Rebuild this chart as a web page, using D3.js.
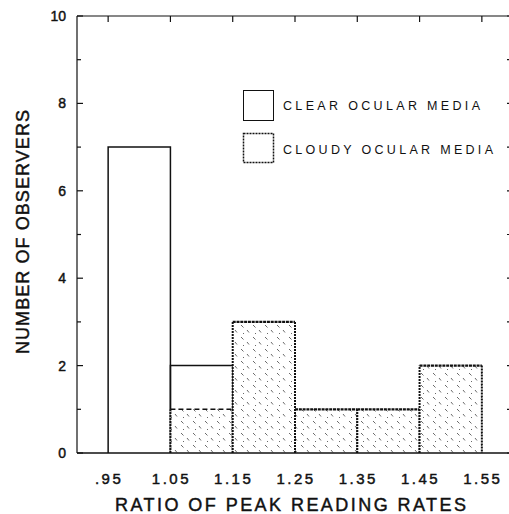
<!DOCTYPE html>
<html>
<head>
<meta charset="utf-8">
<script src="https://cdn.jsdelivr.net/npm/d3@7"></script>
<style>
  html, body { margin: 0; padding: 0; background: #fff; overflow: hidden; }
  svg { display: block; }
  text { font-family: "Liberation Sans", Arial, Helvetica, sans-serif; fill: #111; }
  .heavy { stroke: #111; stroke-width: 0.45; }
</style>
</head>
<body>
<svg id="chart" width="509" height="514"></svg>
<script>
// Histogram bins (lower edge of each 0.1-wide bin)
const binStarts = [0.95, 1.05, 1.15, 1.25, 1.35, 1.45];
const binWidth = 0.1;
// Observer counts per bin
const clearCounts  = [7, 1, 0, 0, 0, 0];
const cloudyCounts = [0, 1, 3, 1, 1, 2];
// Axis ticks
const xTickValues = [0.95, 1.05, 1.15, 1.25, 1.35, 1.45, 1.55];
const xTickLabels = [".95", "1.05", "1.15", "1.25", "1.35", "1.45", "1.55"];
const yTickValues = [0, 1, 2, 3, 4, 5, 6, 7, 8, 9, 10];
const yLabelValues = [0, 2, 4, 6, 8, 10];
const legendLabels = ["CLEAR OCULAR MEDIA", "CLOUDY OCULAR MEDIA"];

const svg = d3.select("#chart");
const x = d3.scaleLinear().domain([0.9, 1.6]).range([77, 513]);
const y = d3.scaleLinear().domain([0, 10]).range([453, 16]);
const ink = "#111";

// Sparse stipple pattern for cloudy-media bars
const defs = svg.append("defs");
const pat = defs.append("pattern")
  .attr("id", "stipple").attr("patternUnits", "userSpaceOnUse")
  .attr("width", 12).attr("height", 12);
pat.append("rect").attr("width", 12).attr("height", 12).attr("fill", "#fff");
[[1, 1, 3.5, 3.5], [7, 6, 9, 8.5], [3, 9, 4, 10]].forEach(s => {
  pat.append("line").attr("x1", s[0]).attr("y1", s[1]).attr("x2", s[2]).attr("y2", s[3])
    .attr("stroke", "#444").attr("stroke-width", 0.8);
});

// Frame (top and left; the right edge lies just past the canvas)
const frame = svg.append("g").attr("fill", "none").attr("stroke", ink).attr("stroke-width", 1.2);
frame.append("line").attr("x1", x(0.9)).attr("x2", x(1.6)).attr("y1", y(10)).attr("y2", y(10));
frame.append("line").attr("x1", x(0.9)).attr("x2", x(0.9)).attr("y1", y(10)).attr("y2", y(0));

// Y ticks on both sides (inward)
const yt = svg.append("g").attr("stroke", ink).attr("stroke-width", 1.2);
yTickValues.forEach(v => {
  const len = v % 2 === 0 ? 6 : 4;
  yt.append("line").attr("x1", x(0.9)).attr("x2", x(0.9) + len).attr("y1", y(v)).attr("y2", y(v));
  yt.append("line").attr("x1", x(1.6)).attr("x2", x(1.6) - 6).attr("y1", y(v)).attr("y2", y(v));
});
// Top ticks at bin edges
xTickValues.forEach(v => {
  yt.append("line").attr("x1", x(v)).attr("x2", x(v)).attr("y1", y(10)).attr("y2", y(10) + 6);
});

// Y tick labels
svg.append("g").selectAll("text").data(yLabelValues).join("text")
  .attr("class", "heavy")
  .attr("x", 66).attr("y", d => y(d)).attr("dy", "0.36em")
  .attr("text-anchor", "end").attr("font-size", 14).text(d => d);

// X tick labels
svg.append("g").selectAll("text").data(xTickValues).join("text")
  .attr("class", "heavy")
  .attr("x", d => x(d) + 1).attr("y", 484)
  .attr("text-anchor", "middle").attr("font-size", 15)
  .attr("letter-spacing", 2.5).text((d, i) => xTickLabels[i]);

// Bars
const bars = svg.append("g");
binStarts.forEach((b, i) => {
  const x0 = x(b), x1 = x(b + binWidth);
  const c = cloudyCounts[i], k = clearCounts[i];
  if (c > 0) {
    bars.append("rect").attr("x", x0).attr("y", y(c))
      .attr("width", x1 - x0).attr("height", y(0) - y(c))
      .attr("fill", "url(#stipple)");
    // sides: dotted
    bars.append("path")
      .attr("d", `M${x0},${y(0)}V${y(c)}M${x1},${y(c)}V${y(0)}`)
      .attr("fill", "none").attr("stroke", ink).attr("stroke-width", 2)
      .attr("stroke-dasharray", "2,1");
    // top: long dashes where it borders a clear segment, dense dots otherwise
    bars.append("line").attr("x1", x0).attr("x2", x1).attr("y1", y(c)).attr("y2", y(c))
      .attr("stroke", ink).attr("stroke-width", k > 0 ? 1.6 : 2.2)
      .attr("stroke-dasharray", k > 0 ? "5,3" : "3,0.8");
  }
  if (k > 0) {
    const base = c, top = c + k;
    bars.append("path")
      .attr("d", `M${x0},${y(base)}V${y(top)}H${x1}V${y(base)}`)
      .attr("fill", "none").attr("stroke", ink).attr("stroke-width", 1.5);
  }
});

// Bottom axis line
svg.append("line").attr("x1", x(0.9)).attr("x2", x(1.6)).attr("y1", y(0)).attr("y2", y(0))
  .attr("stroke", ink).attr("stroke-width", 1.5);

// Legend
const lg = svg.append("g");
lg.append("rect").attr("x", 243.5).attr("y", 90.5).attr("width", 30).attr("height", 30)
  .attr("fill", "#fff").attr("stroke", ink).attr("stroke-width", 1);
lg.append("rect").attr("x", 243.5).attr("y", 133.5).attr("width", 30).attr("height", 29)
  .attr("fill", "#fff").attr("stroke", ink).attr("stroke-width", 1.5)
  .attr("stroke-dasharray", "2,1");
lg.append("text").attr("x", 283).attr("y", 110).attr("font-size", 12.5)
  .attr("textLength", 197).attr("lengthAdjust", "spacing").text(legendLabels[0]);
lg.append("text").attr("x", 283).attr("y", 154).attr("font-size", 12.5)
  .attr("textLength", 210).attr("lengthAdjust", "spacing").text(legendLabels[1]);

// Axis titles
svg.append("text").attr("class", "heavy").attr("x", 115).attr("y", 511).attr("font-size", 18)
  .attr("textLength", 351).attr("lengthAdjust", "spacing")
  .text("RATIO OF PEAK READING RATES");
svg.append("text").attr("class", "heavy").attr("transform", "translate(29,354) rotate(-90)")
  .attr("font-size", 18).attr("textLength", 244).attr("lengthAdjust", "spacing")
  .text("NUMBER OF OBSERVERS");
</script>
</body>
</html>
